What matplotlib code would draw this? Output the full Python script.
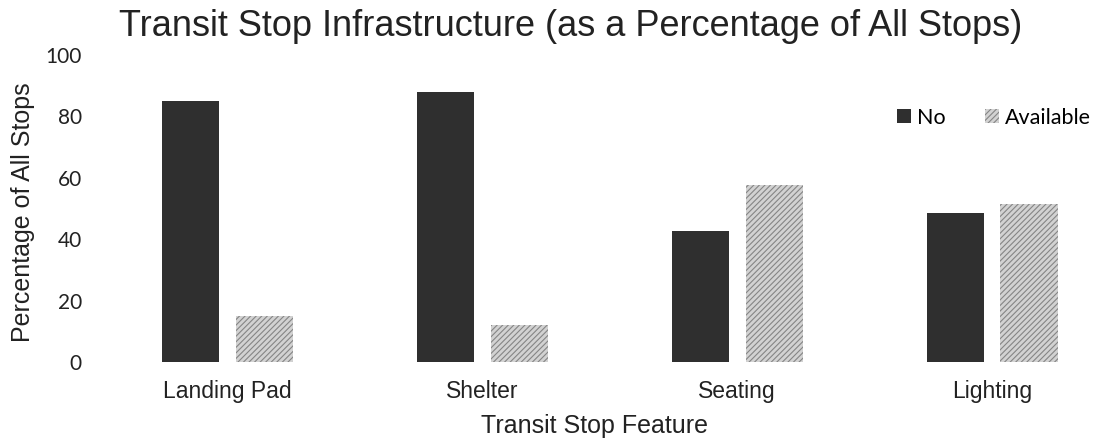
import matplotlib.pyplot as plt
import numpy as np

# values
features = ["Landing Pad", "Shelter", "Seating", "Lighting"]
no_vals = [85, 88, 42.5, 48.5]
available_vals = [15, 12, 57.5, 51.5]
y_ticks = [0, 20, 40, 60, 80, 100]


def main() -> None:
    plt.rcParams["hatch.color"] = "#858585"
    plt.rcParams["hatch.linewidth"] = 0.8

    fig = plt.figure(figsize=(10.94, 4.42), dpi=100)
    ax = fig.add_axes([0.0914, 0.181, 0.9086, 0.695])

    x = np.arange(len(features))
    width = 0.224
    ax.bar(x - 0.145, no_vals, width, color="#2f2f2f", label="No")
    ax.bar(
        x + 0.145,
        available_vals,
        width,
        color="#d2d2d2",
        hatch="//////",
        linewidth=0,
        label="Available",
    )

    ax.set_xlim(-0.5, 3.40)
    ax.set_ylim(0, 100)
    ax.set_xticks(x)
    ax.set_xticklabels(features, fontsize=16.5, family="Liberation Sans",
                       color="#222222")
    ax.set_yticks(y_ticks)
    ax.set_yticklabels([str(v) for v in y_ticks], fontsize=15, family="Lato",
                       color="#222222")
    ax.tick_params(axis="y", length=0, pad=13)
    ax.tick_params(axis="x", length=0, pad=13)
    for s in ax.spines.values():
        s.set_visible(False)

    fig.text(0.522, 0.939, "Transit Stop Infrastructure (as a Percentage of All Stops)",
             ha="center", va="center", fontsize=26, family="Liberation Sans",
             color="#222222")
    fig.text(0.543, 0.036, "Transit Stop Feature", ha="center", va="center",
             fontsize=18, family="Liberation Sans", color="#222222")
    fig.text(0.021, 0.52, "Percentage of All Stops", ha="center", va="center",
             rotation=90, fontsize=18, family="Liberation Sans", color="#222222")

    ax.legend(loc="center right", bbox_to_anchor=(0.997, 0.795), ncol=2,
              frameon=False, borderaxespad=0, borderpad=0,
              prop={"family": "Lato", "size": 15.5}, handlelength=0.65,
              handleheight=0.65, columnspacing=1.8, handletextpad=0.3)

    fig.savefig("out.png", dpi=100)


if __name__ == "__main__":
    main()
